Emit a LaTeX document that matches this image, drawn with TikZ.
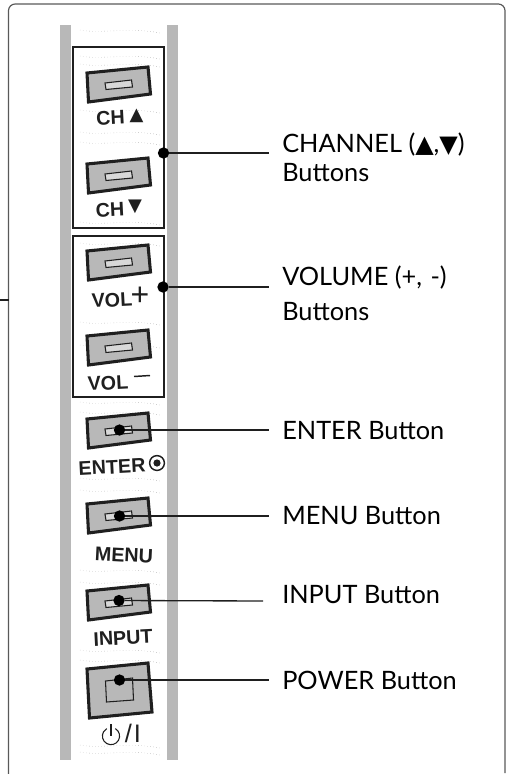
\documentclass[tikz,border=0pt]{standalone}
\usepackage{fontspec}
\setmainfont{Lato}
\newfontfamily\smallf{Liberation Sans}[BoldFont={Liberation Sans Bold}]
\newfontfamily\symf{DejaVu Sans}
\definecolor{halftone}{gray}{0.72}
\definecolor{ink}{gray}{0.12}
\tikzset{
  framepen/.style={draw=black!65,line width=0.9pt},
  strip/.style={fill=halftone,draw=none},
  groupbox/.style={draw=ink,line width=1.5pt},
  btnface/.style={fill=halftone,draw=ink,line width=2.3pt,line join=miter},
  btnslot/.style={fill=white!45!halftone,draw=ink,line width=0.8pt},
  powerslot/.style={draw=ink,line width=0.8pt},
  lead/.style={draw=ink,line width=1pt},
  leaddot/.style={circle,fill=black,inner sep=0pt,minimum size=8.5pt},
  biglabel/.style={anchor=base west,inner sep=0pt,font=\fontsize{19}{22}\selectfont,text=black},
  keylabel/.style={inner sep=0pt,text=ink,font=\smallf\bfseries\fontsize{14.8}{16}\selectfont},
  keysym/.style={inner sep=0pt,text=ink,font=\symf\fontsize{13.5}{14}\selectfont},
  texture/.style={draw=black!45,line width=0.3pt,dotted}
}
\newcommand{\smallbtn}[1]{%
  \begin{scope}[shift={(0,#1)}]
    \draw[btnface] (87,73) -- (148,67) -- (150.5,94) -- (88.5,102) -- cycle;
    \draw[btnslot] (105,83) -- (131.5,80) -- (132.5,87) -- (106,89.5) -- cycle;
  \end{scope}}
\begin{document}
\begin{tikzpicture}[x=0.75pt,y=-0.75pt]
\useasboundingbox (0,0) rectangle (508,774);
% frame
\draw[framepen,rounded corners=5pt] (8.5,774) -- (8.5,4) -- (505,4) -- (505,773);
\coordinate (stubL) at (0,300);
\coordinate (stubR) at (8.5,300);
\draw[lead] (stubL) -- (stubR);
% strips
\fill[strip] (59.5,25) rectangle (71,760);
\fill[strip] (167,25) rectangle (178,760);
% faint paper texture
\foreach \yy in {30,56,64,110,132,142,222,243,322,345,402,412,478,490,570,582,650,660,745,752}{
  \draw[texture] (80,\yy) .. controls (100,\yy+4) and (130,\yy-3) .. (160,\yy+3);
}
% group boxes
\draw[groupbox] (72.5,47) rectangle (164,228);
\draw[groupbox] (72.5,235.5) rectangle (164,397);
% buttons
\smallbtn{0}\smallbtn{91}\smallbtn{178}\smallbtn{263}
\smallbtn{346}\smallbtn{431}\smallbtn{518}
\draw[btnface] (87,669) -- (148,663) -- (152,712) -- (89.5,718) -- cycle;
\draw[powerslot] (105.5,681) -- (132.5,678) -- (133.5,700) -- (106.5,702) -- cycle;
% key captions
\node[keylabel,rotate=3] (lblchu) at (110.5,118) {CH};
\node[keysym] (symchu) at (136.5,116) {▲};
\node[keylabel,rotate=3] (lblchd) at (110,210) {CH};
\node[keysym] (symchd) at (135,207) {▼};
\node[keylabel,rotate=3] (lblvolp) at (112,300) {VOL};
\node[inner sep=0pt,text=ink,font=\smallf\fontsize{24}{24}\selectfont] (symvolp) at (140,296) {+};
\node[keylabel,rotate=3] (lblvolm) at (108,383) {VOL};
\draw[ink,line width=1.1pt] (134,376.5) -- (150,375.5);
\node[keylabel,rotate=3] (lblenter) at (112,467) {ENTER};
\draw[ink,line width=1.1pt] (157,463) circle[radius=7.4];
\fill[ink] (157,463) circle[radius=3.6];
\node[keylabel,rotate=-3] (lblmenu) at (124,555) {MENU};
\node[keylabel,rotate=3] (lblinput) at (123,638) {INPUT};
\draw[ink,line width=0.8pt] (115.3,728.6) arc[start angle=-60,end angle=240,radius=8.6];
\draw[ink,line width=0.8pt] (111,724) -- (111,736);
\node[inner sep=0pt,text=ink,font=\smallf\fontsize{19}{20}\selectfont] (lblpower) at (133,733) {/\kern1.5pt I};
% connectors
\node[leaddot] (dch) at (163.5,153) {};
\node[leaddot] (dvol) at (163,287) {};
\node[leaddot] (dent) at (119.5,430) {};
\node[leaddot] (dmen) at (119.5,516) {};
\node[leaddot] (dinp) at (119,600.5) {};
\node[leaddot] (dpow) at (119.5,680) {};
\coordinate (ech) at (269,153);
\coordinate (evol) at (269,287);
\coordinate (eent) at (269,430);
\coordinate (emen) at (269,516);
\coordinate (einp) at (263,601);
\coordinate (epow) at (269,680);
\draw[lead] (dch) -- (ech);
\draw[lead] (dvol) -- (evol);
\draw[lead] (dent) -- (eent);
\draw[lead] (dmen) -- (emen);
\draw[lead] (dinp) -- (einp);
\draw[lead] (dpow) -- (epow);
% labels
\node[biglabel] (tch) at (282,152) {CHANNEL ({\symf\fontsize{18}{20}\selectfont ▲},{\symf\fontsize{18}{20}\selectfont ▼})};
\node[biglabel] (tchb) at (282,181.5) {Buttons};
\node[biglabel] (tvol) at (282,285) {VOLUME (+,\kern1.5pt\ -)};
\node[biglabel] (tvolb) at (282,320) {Buttons};
\node[biglabel] (tent) at (282,439) {ENTER Button};
\node[biglabel] (tmen) at (282,524) {MENU Button};
\node[biglabel] (tinp) at (282,603) {INPUT Button};
\node[biglabel] (tpow) at (282,689) {POWER Button};
\end{tikzpicture}
\end{document}
